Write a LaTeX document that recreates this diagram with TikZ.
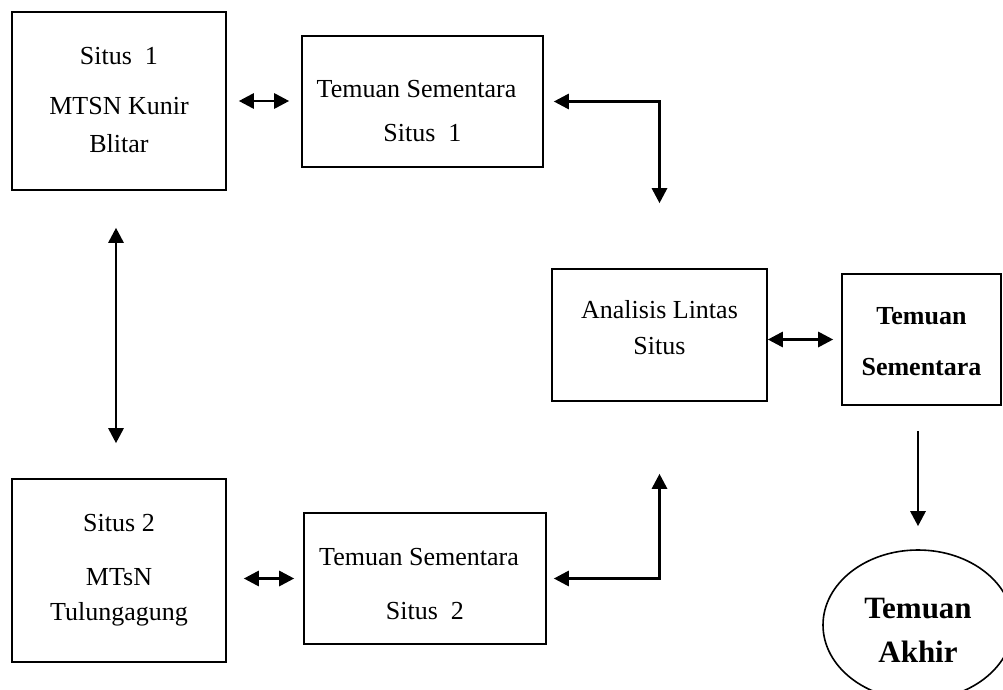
\documentclass[tikz,border=0pt]{standalone}
\usepackage{fontspec}
\setmainfont{Liberation Serif}
\usetikzlibrary{arrows.meta,shapes.geometric,calc}
\begin{document}
\begin{tikzpicture}[x=1pt,y=-1pt,
  box/.style={draw,line width=1.6pt,rectangle,inner sep=0pt,align=center,
    font=\fontsize{26}{30}\selectfont},
  bbox/.style={box,font=\fontsize{26}{30}\selectfont\bfseries},
  oval/.style={draw,line width=1.6pt,ellipse,inner sep=0pt,align=center,
    font=\fontsize{31}{35}\selectfont\bfseries},
  dbl/.style={line width=2.8pt,{Triangle[length=15pt,width=15pt]}-{Triangle[length=15pt,width=15pt]}},
  sgl/.style={line width=2.8pt,-{Triangle[length=15pt,width=15pt]}}]
\clip (0,0) rectangle (1003,690);
\useasboundingbox (0,0) rectangle (1003,690);
\fill[white] (0,0) rectangle (1003,690);

\node[box,minimum width=214pt,minimum height=178pt] (b1) at (119,101)
  {\rule{0pt}{20pt}Situs\ \ 1\\[21pt]MTSN Kunir\\[7pt]Blitar\rule[-6pt]{0pt}{6pt}};
\node[box,minimum width=241pt,minimum height=131pt] (b2) at (422.5,101.5)
  {\rule{0pt}{40pt}Temuan Sementara\rule{12pt}{0pt}\\[14pt]Situs\ \ 1\rule[-4.4pt]{0pt}{4.4pt}};
\node[box,minimum width=214pt,minimum height=183pt] (b3) at (119,570.5)
  {\rule{0pt}{20pt}Situs 2\\[24pt]MTsN\\[5pt]Tulungagung\rule[-10pt]{0pt}{10pt}};
\node[box,minimum width=242pt,minimum height=131pt] (b4) at (425,578.5)
  {\rule{0pt}{35pt}Temuan Sementara\rule{12pt}{0pt}\\[24pt]Situs\ \ 2\rule[-8pt]{0pt}{8pt}};
\node[box,minimum width=215pt,minimum height=132pt] (an) at (659.5,335)
  {\rule{0pt}{20pt}Analisis Lintas\\[6pt]Situs\rule[-18pt]{0pt}{18pt}};
\node[bbox,minimum width=159pt,minimum height=131pt] (ts) at (921.5,339.5)
  {\rule{0pt}{25pt}Temuan\\[21pt]Sementara\rule[-5pt]{0pt}{5pt}};
\node[oval,minimum width=190pt,minimum height=150pt] (el) at (918,625)
  {\rule{0pt}{33pt}Temuan\\[9pt]Akhir\rule[-3pt]{0pt}{3pt}};

\draw[dbl,shorten <=12pt,shorten >=12pt] (b1.east) -- (b1.east -| b2.west);
\draw[dbl,shorten <=17pt,shorten >=9pt] (b3.east |- b4.west) -- (b4.west);
\draw[dbl,shorten <=37pt,shorten >=35pt] ([xshift=-3pt]b1.south) -- ([xshift=-3pt]b3.north);
\draw[dbl,shorten >=8pt] (an.east |- ts.west) -- (ts.west);
\draw[dbl,shorten <=10pt,shorten >=65pt] (b2.east) -- (b2.east -| an.north) -- (an.north);
\draw[dbl,shorten <=7pt,shorten >=72pt] (b4.east) -- (b4.east -| an.south) -- (an.south);
\draw[sgl,shorten <=25pt,shorten >=23pt] (el.north |- ts.south) -- (el.north);
\end{tikzpicture}
\end{document}
